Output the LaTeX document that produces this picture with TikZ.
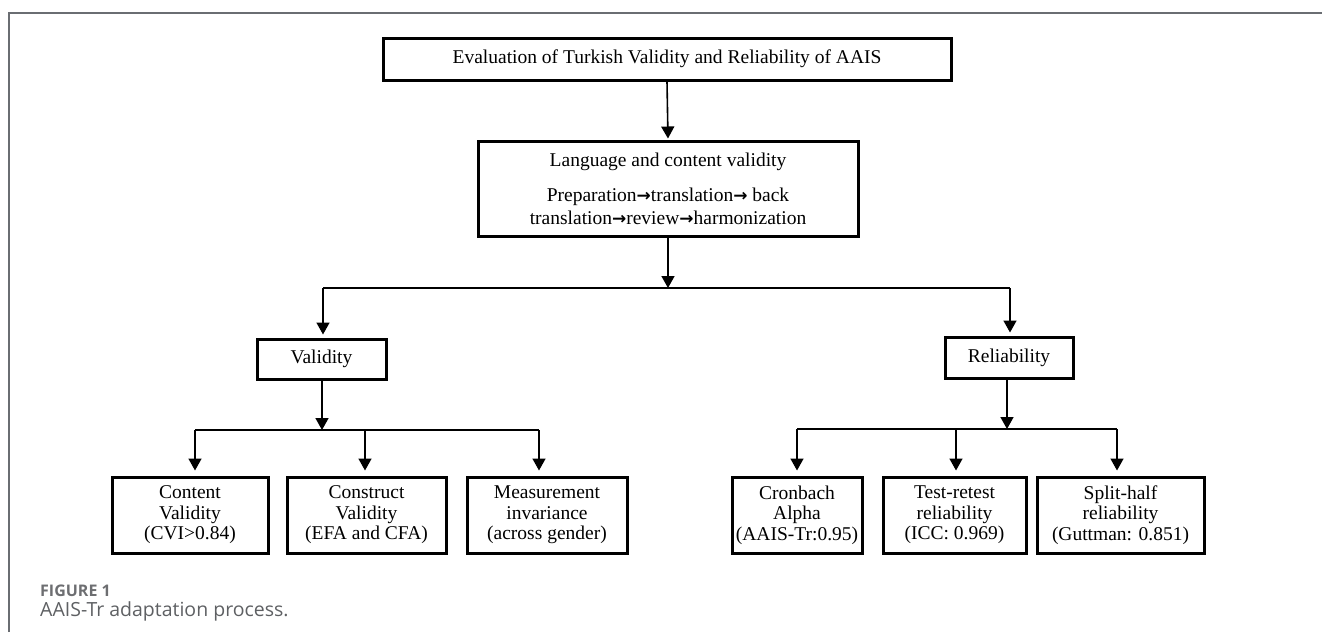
\documentclass[tikz,border=0pt]{standalone}
\usepackage{fontspec}
\setmainfont{Liberation Serif}
\newfontfamily\capfont{Open Sans}
\newfontfamily\arrfont{DejaVu Sans}
\newcommand{\rarr}{{\arrfont\bfseries\fontsize{17}{20}\selectfont →}}
\usetikzlibrary{arrows.meta,calc}
\definecolor{framegray}{HTML}{6A6D72}
\definecolor{capgray}{HTML}{6D6E71}
\definecolor{captext}{HTML}{5E6063}
\begin{document}
\begin{tikzpicture}[x=1pt,y=-1pt,
  box/.style={draw=black,line width=3pt,rectangle,inner sep=0pt,align=center,
    font=\fontsize{19.5}{20.5}\selectfont},
  conn/.style={line width=1.6pt,draw=black},
  arr/.style={conn,-{Triangle[width=13pt,length=12pt]},shorten >=5pt}]
\useasboundingbox (0,0) rectangle (1322,632);
% frame
\draw[framegray,line width=2pt] (9,632) -- (9,13) -- (1322,13);

% nodes
\node[box,minimum width=568pt,minimum height=42pt,font=\fontsize{19.5}{20}\selectfont] (top) at (667,59)
  {Evaluation of Turkish Validity and Reliability of AAIS};
\node[box,minimum width=380pt,minimum height=95pt,font=\fontsize{19.5}{23}\selectfont] (lang) at (668,188.5)
  {Language and content validity\\[12pt]
   Preparation\rarr translation\rarr\ back\\
   translation\rarr review\rarr harmonization};
\node[box,minimum width=129pt,minimum height=40pt] (val) at (321.5,359) {Validity};
\node[box,minimum width=128pt,minimum height=41pt] (rel) at (1009,357.5) {Reliability};

\node[box,minimum width=156pt,minimum height=76pt] (cv) at (190,515) {Content\\Validity\\(CVI>0.84)};
\node[box,minimum width=159pt,minimum height=76pt] (sv) at (366.5,515) {Construct\\Validity\\(EFA and CFA)};
\node[box,minimum width=160pt,minimum height=76pt] (mi) at (547,515) {Measurement\\invariance\\(across gender)};
\node[box,minimum width=130pt,minimum height=76pt] (ca) at (797,515) {Cronbach\\Alpha\\(AAIS-Tr:0.95)};
\node[box,minimum width=143pt,minimum height=76pt] (tr) at (954.5,515) {Test-retest\\reliability\\(ICC: 0.969)};
\node[box,minimum width=167pt,minimum height=76pt] (sh) at (1120.5,515) {Split-half\\reliability\\(Guttman: 0.851)};

% branch coordinates
\coordinate (b1) at (668,288);
\coordinate (b1l) at (323,288);
\coordinate (b1r) at (1010,288);
\coordinate (b2) at (322,430);
\coordinate (b2a) at (195,430);
\coordinate (b2b) at (365,430);
\coordinate (b2c) at (539,430);
\coordinate (b3) at (1007,429);
\coordinate (b3a) at (797,429);
\coordinate (b3b) at (956,429);
\coordinate (b3c) at (1117,429);

% connectors
\draw[arr,shorten >=1pt] (top.south) -- (lang.north);
\draw[arr,shorten >=0pt] (lang.south -| b1) -- (b1);
\draw[conn] (b1l) -- (b1r);
\draw[arr,shorten >=3pt] (b1l) -- (b1l |- val.north);
\draw[arr,shorten >=3pt] (b1r) -- (b1r |- rel.north);

\draw[arr,shorten >=0pt] (val.south -| b2) -- (b2);
\draw[conn] (b2a) -- (b2c);
\draw[arr] (b2a) -- (b2a |- cv.north);
\draw[arr] (b2b) -- (b2b |- sv.north);
\draw[arr] (b2c) -- (b2c |- mi.north);

\draw[arr,shorten >=0pt] (rel.south -| b3) -- (b3);
\draw[conn] (b3a) -- (b3c);
\draw[arr] (b3a) -- (b3a |- ca.north);
\draw[arr] (b3b) -- (b3b |- tr.north);
\draw[arr] (b3c) -- (b3c |- sh.north);

% caption
\node[anchor=base west,inner sep=0pt,text=capgray,font=\capfont\bfseries\fontsize{16}{18}\selectfont] (fig) at (40,596) {FIGURE 1};
\node[anchor=base west,inner sep=0pt,text=captext,font=\capfont\fontsize{19.5}{22}\selectfont] (cap) at (40,616) {AAIS-Tr adaptation process.};
\end{tikzpicture}
\end{document}
